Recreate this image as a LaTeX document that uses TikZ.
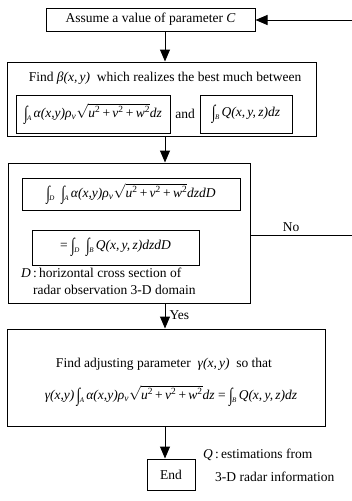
\documentclass[tikz,border=0pt]{standalone}
\usepackage{fontspec}
\usepackage{graphicx}
\setmainfont{Liberation Serif}
\usetikzlibrary{arrows.meta,calc}
\newcommand{\iv}[1]{{\itshape #1}}
\newcommand{\IS}[1]{\raisebox{-0.3ex}{\scalebox{1}[1.4]{∫}}\kern-0.5pt\raisebox{-0.5ex}{\fontsize{7}{8}\selectfont\iv{#1}}}
\newcommand{\sqt}{$\sqrt{\hbox{\iv{u}\textsuperscript{2}\,+\,\iv{v}\textsuperscript{2}\,+\,\iv{w}\textsuperscript{2}}}$}
\newcommand{\intA}{\IS{A}\,\iv{α(x,y)ρ}\textsubscript{\iv{v}}\sqt}
\newcommand{\Qf}{\iv{Q(x,\,y,\,z)}}
\begin{document}
\begin{tikzpicture}[x=1pt,y=-1pt,
  box/.style={draw,line width=1pt,inner sep=0pt},
  arr/.style={line width=1pt,-{Triangle[length=12pt,width=10pt]}},
  ln/.style={line width=1pt},
  txt/.style={inner sep=0pt,font=\fontsize{13.5}{16}\selectfont}]
\useasboundingbox (0,0) rectangle (352,501);
\coordinate (axis) at (165,0);
\coordinate (fb) at (352,20);
\coordinate (noend) at (352,235);
% box 1
\node[box,txt,minimum width=209pt,minimum height=23pt] (b1) at (150.5,19.5) {Assume a value of parameter \iv{C}};
% box 2
\node[box,minimum width=309pt,minimum height=74pt] (b2) at (161.5,99) {};
\node[txt] (t2) at (165,78) {Find \iv{β(x,\,y)}\ \ which realizes the best much between};
\node[box,txt,minimum width=154pt,minimum height=38pt] (iA) at (93,114) {\intA\iv{dz}};
\node[txt] (and) at (185,114) {and};
\node[box,txt,minimum width=92pt,minimum height=38pt] (iB) at (246,114) {\IS{B}\,\Qf\iv{dz}};
% box 3
\node[box,minimum width=242pt,minimum height=140pt] (b3) at (129,233) {};
\node[box,txt,minimum width=218pt,minimum height=32pt] (c1) at (131,194) {\IS{D}\ \ \intA\iv{dzdD}};
\node[box,txt,minimum width=167pt,minimum height=35pt] (c2) at (115.5,247.5) {=\ \IS{D}\ \ \IS{B}\,\Qf\iv{dzdD}};
\node[txt,anchor=west] (d1) at (21,273) {\iv{D}\,:\,horizontal cross section of};
\node[txt,anchor=west] (d2) at (33,290) {radar observation 3-D domain};
% box 4
\node[box,minimum width=318pt,minimum height=97pt] (b4) at (166,377.5) {};
\node[txt] (t4) at (164,364) {Find adjusting parameter\ \ \iv{γ(x,\,y)}\ \ so that};
\node[txt] (e4) at (171,396) {\iv{γ(x,y)}\,\intA\iv{dz} = \IS{B}\,\Qf\iv{dz}};
% end
\node[box,txt,minimum width=48pt,minimum height=31pt] (end) at (171,474.5) {End};
\node[txt,anchor=west] (q1) at (203,455) {\iv{Q}\,:\,estimations from};
\node[txt,anchor=west] (q2) at (215,477) {3-D radar information};
% connectors
\draw[arr] (b1.south -| axis) -- (b2.north -| axis);
\draw[arr] (b2.south -| axis) -- (b3.north -| axis);
\draw[arr] (b3.south -| axis) -- node[txt,right,xshift=4pt,pos=0.45] (yes) {Yes} (b4.north -| axis);
\draw[arr] (b4.south -| axis) -- (end.north -| axis);
\draw[arr] (fb) -- (b1.east |- fb);
\draw[ln] (b3.east |- noend) -- node[txt,above,yshift=3pt,pos=0.4] (no) {No} (noend);
\end{tikzpicture}
\end{document}
